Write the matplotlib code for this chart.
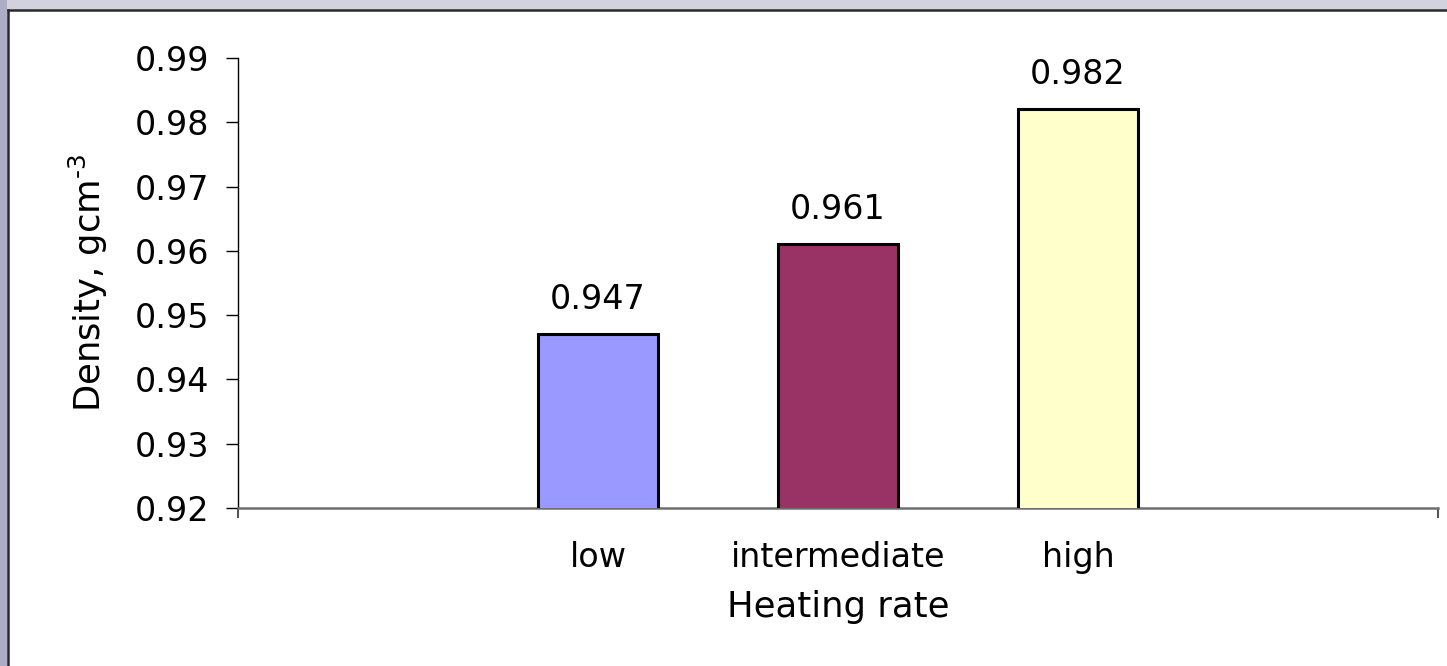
import matplotlib.pyplot as plt
from matplotlib.patches import Rectangle
from matplotlib.lines import Line2D
import numpy as np

# Density of samples for each heating rate
categories = ['low', 'intermediate', 'high']
density = [0.947, 0.961, 0.982]
bar_colors = ['#9999FF', '#993366', '#FFFFCC']

y_ticks = [0.92, 0.93, 0.94, 0.95, 0.96, 0.97, 0.98, 0.99]

plt.rcParams['font.family'] = ['DejaVu Sans']
plt.rcParams['mathtext.fontset'] = 'dejavusans'

FS = 24

W, H = 1447, 666
fig = plt.figure(figsize=(W / 100, H / 100), dpi=100)
fig.patch.set_facecolor('#D2D2DE')

# window-style frame: grey bands on top/left, white panel with dark edge
fig.patches.append(Rectangle((0, 0), 7 / W, 1, transform=fig.transFigure,
                             facecolor='#ADADC6', edgecolor='none', zorder=-2))
fig.patches.append(Rectangle((8 / W, 0), 1, 1 - 10 / H, transform=fig.transFigure,
                             facecolor='white', edgecolor='none', zorder=-2))
fig.lines.append(Line2D([7.5 / W, 1], [1 - 9.5 / H, 1 - 9.5 / H], transform=fig.transFigure,
                        color='#2A2A2A', lw=1.8, zorder=-1))
fig.lines.append(Line2D([7.5 / W, 7.5 / W], [0, 1 - 9.5 / H], transform=fig.transFigure,
                        color='#2A2A2A', lw=1.8, zorder=-1))

ax = fig.add_axes([238 / W, 1 - 508 / H, 1200 / W, 450 / H])
ax.set_facecolor('none')
ax.set_zorder(1)

x = np.arange(len(categories)) + 1
bars = ax.bar(x, density, width=0.5, color=bar_colors, edgecolor='black', linewidth=2.2, zorder=3)

for rect, val in zip(bars, density):
    ax.annotate(f'{val:.3f}', xy=(rect.get_x() + rect.get_width() / 2, val),
                xytext=(0, 18.5), textcoords='offset points', ha='center', va='baseline',
                fontsize=FS)

ax.set_xlim(-0.5, len(categories) + 1.5)
ax.set_ylim(0.92, 0.99)
ax.set_yticks(y_ticks)
ax.set_yticklabels([f'{t:.2f}' for t in y_ticks])
ax.set_xticks(x)
ax.set_xticklabels(categories)
ax.set_xticks([-0.5, len(categories) + 1.5], minor=True)

ax.tick_params(axis='y', direction='out', length=8.6, width=1, pad=12, labelsize=FS, colors='black')
ax.tick_params(axis='x', which='major', length=0, pad=24, labelsize=FS)
ax.tick_params(axis='x', which='minor', direction='out', length=7, width=1.5, color='#555555')

for side in ['top', 'right']:
    ax.spines[side].set_visible(False)
ax.spines['left'].set_color('black')
ax.spines['left'].set_linewidth(1)
ax.spines['bottom'].set_color('#6E6E6E')
ax.spines['bottom'].set_linewidth(1.8)

ax.set_xlabel('Heating rate', fontsize=25.5, labelpad=11)
ax.set_ylabel('Density, gcm$^{\u20103}$', fontsize=25.5, labelpad=18)

fig.savefig('out.png', dpi=100, facecolor=fig.get_facecolor())
